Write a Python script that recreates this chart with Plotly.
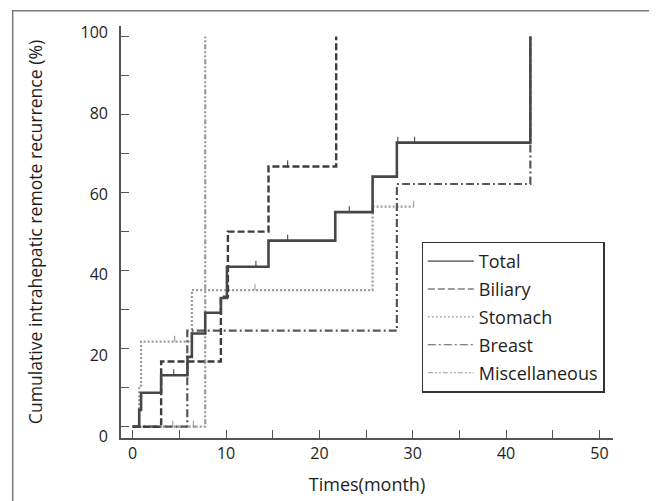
import plotly.graph_objects as go

# ---- data (months, cumulative %) ----
total_t = [0, 0.7, 0.9, 3.05, 5.87, 6.34, 7.77, 9.45, 10.1, 14.55, 21.7, 25.7, 28.3, 42.6]
total_y = [0, 4.3, 8.7, 13.2, 17.9, 23.9, 29.2, 33.0, 41.0, 47.7, 55.0, 64.1, 72.8, 100]
total_cens_t = [4.4, 13.2, 16.6, 23.2, 28.4, 30.2]
total_cens_y = [13.2, 41.0, 47.7, 55.0, 72.8, 72.8]

biliary_t = [0, 3.05, 9.45, 10.2, 14.55, 21.8]
biliary_y = [0, 16.7, 33.3, 50.0, 66.7, 100]
biliary_cens_t = [16.6]
biliary_cens_y = [66.7]

stomach_t = [0, 0.7, 0.9, 6.35, 25.7, 30.1]
stomach_y = [0, 10.5, 21.8, 35.0, 56.4, 56.4]
stomach_cens_t = [4.5, 13.1, 30.1]
stomach_cens_y = [21.8, 35.0, 56.4]

breast_t = [0, 5.85, 28.3, 42.6]
breast_y = [0, 24.6, 62.2, 100]

misc_t = [0, 7.77]
misc_y = [0, 100]
misc_cens_t = [4.3, 6.5]
misc_cens_y = [0, 0]

series_names = ["Total", "Biliary", "Stomach", "Breast", "Miscellaneous"]
x_ticks = [0, 10, 20, 30, 40, 50]
y_ticks = [0, 20, 40, 60, 80, 100]

# ---- styles ----
FONT = "Open Sans"
TXT = "#1e1e1e"
AX = "#555555"
styles = {
    "Total": dict(color="#474747", dash="solid", width=2.6),
    "Biliary": dict(color="#3d3d3d", dash="7px,3px", width=2.4),
    "Stomach": dict(color="#9c9c9c", dash="2px,2px", width=2.2),
    "Breast": dict(color="#585858", dash="8px,3px,2px,3px", width=2.2),
    "Miscellaneous": dict(color="#9a9a9a", dash="5px,2px,2px,2px,2px,2px", width=2.2),
}
CENS_H = 1.5

data = {
    "Total": (total_t, total_y, total_cens_t, total_cens_y),
    "Biliary": (biliary_t, biliary_y, biliary_cens_t, biliary_cens_y),
    "Stomach": (stomach_t, stomach_y, stomach_cens_t, stomach_cens_y),
    "Breast": (breast_t, breast_y, [], []),
    "Miscellaneous": (misc_t, misc_y, misc_cens_t, misc_cens_y),
}

fig = go.Figure()

# draw order: lighter first, Total on top
for name in ["Miscellaneous", "Stomach", "Breast", "Biliary", "Total"]:
    t, y, ct, cy = data[name]
    st = styles[name]
    fig.add_trace(go.Scatter(
        x=t, y=y, mode="lines", line_shape="hv", showlegend=False,
        line=dict(color=st["color"], dash=st["dash"], width=st["width"]),
        name=name, hoverinfo="skip"))
    if ct:
        cx, cyy = [], []
        for a, b in zip(ct, cy):
            cx += [a, a, None]
            cyy += [b, b + CENS_H, None]
        fig.add_trace(go.Scatter(
            x=cx, y=cyy, mode="lines", showlegend=False,
            line=dict(color=st["color"], width=1.1), hoverinfo="skip"))

# legend entries (thin samples as in the original)
for i, name in enumerate(series_names):
    st = styles[name]
    fig.add_trace(go.Scatter(
        x=[None], y=[None], mode="lines", name=name, legendgroup=name,
        line=dict(color=st["color"], dash=st["dash"], width=1.1)))

# invisible trace to activate label axis
fig.add_trace(go.Scatter(x=[None], y=[None], yaxis="y2", showlegend=False))

fig.update_layout(
    width=649, height=493,
    margin=dict(l=113, r=44, t=18, b=63, autoexpand=False),
    paper_bgcolor="white", plot_bgcolor="white",
    font=dict(family=FONT, size=16, color=TXT),
    xaxis=dict(
        range=[-1.25, 51.45], showgrid=False, zeroline=False, automargin=False,
        showline=True, linecolor=AX, linewidth=1.5,
        ticks="inside", ticklen=8, tickwidth=1.3, tickcolor=AX,
        tickvals=x_ticks, ticktext=[str(v) for v in x_ticks],
        minor=dict(dtick=5, tick0=0, ticks="inside", ticklen=8, tickwidth=1.3,
                   tickcolor=AX, showgrid=False),
        tickfont=dict(size=16, color=TXT),
        title=dict(text="Times(month)", font=dict(size=18, color=TXT), standoff=15),
    ),
    yaxis=dict(
        range=[-2.9, 102.7], showgrid=False, zeroline=False, automargin=False,
        showline=True, linecolor=AX, linewidth=1.5,
        ticks="inside", ticklen=8, tickwidth=1.3, tickcolor=AX,
        tickvals=y_ticks, showticklabels=False,
        minor=dict(dtick=10, tick0=0, ticks="inside", ticklen=8, tickwidth=1.3,
                   tickcolor=AX, showgrid=False),
    ),
    yaxis2=dict(
        overlaying="y", side="left", range=[-0.37, 101.6], automargin=False,
        showgrid=False, zeroline=False, showline=False, ticks="",
        tickvals=y_ticks, ticktext=[str(v) for v in y_ticks],
        tickfont=dict(size=16, color=TXT), ticklabelstandoff=12,
        title=dict(text="Cumulative intrahepatic remote recurrence (%)",
                   font=dict(size=17.6, color=TXT), standoff=33),
    ),
    legend=dict(
        x=0.611, y=0.4765, xanchor="left", yanchor="top",
        bgcolor="white", bordercolor="#333333", borderwidth=1.2,
        font=dict(size=18, color=TXT), tracegroupgap=1.5, traceorder="grouped",
        itemwidth=46, entrywidth=128,
    ),
    shapes=[dict(type="rect", xref="paper", yref="paper",
                 x0=-0.2201, x1=1.0803, y0=-0.3, y1=1.0371,
                 line=dict(color="#7a7a7a", width=1.5), fillcolor="rgba(0,0,0,0)",
                 layer="below")],
)

fig.write_html("out.html")
